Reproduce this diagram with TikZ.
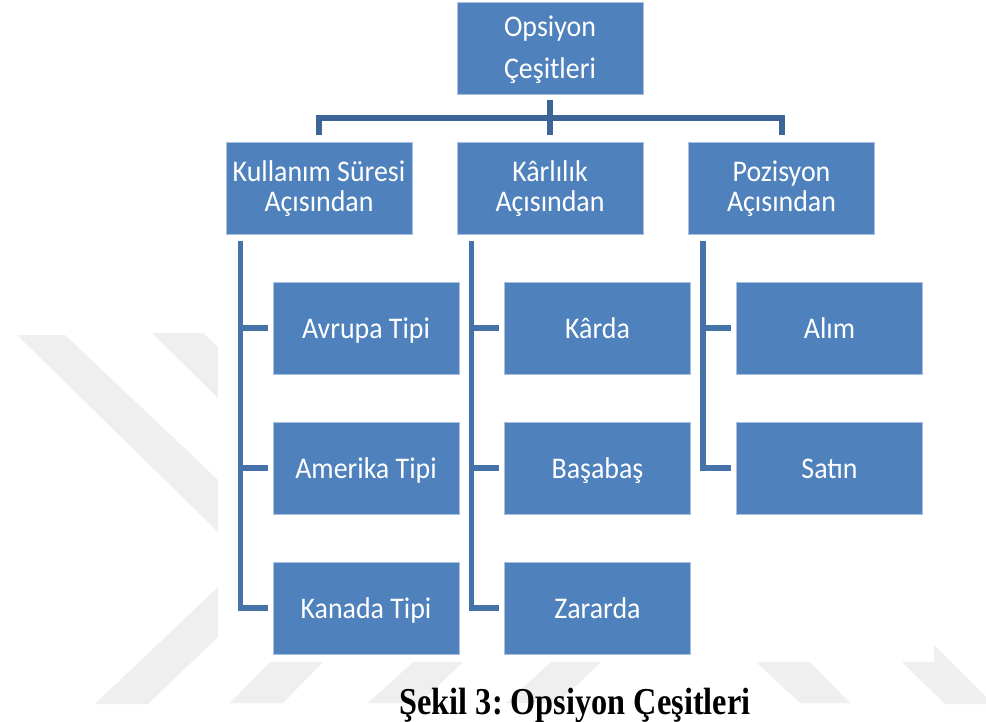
\documentclass[tikz,border=0pt]{standalone}
\usepackage{fontspec}
\usetikzlibrary{calc}
\newfontfamily\boxfont[FakeStretch=0.93]{Carlito}
\newfontfamily\capfont[FakeStretch=0.85]{Liberation Serif}
\definecolor{boxblue}{HTML}{4F81BD}
\definecolor{boxedge}{HTML}{A9C0DE}
\definecolor{lineblue}{HTML}{4672AA}
\definecolor{barblue}{HTML}{3D6698}
\definecolor{markgray}{HTML}{EFEFEF}
\tikzset{
  box/.style={rectangle, fill=boxblue, draw=boxedge, line width=0.8pt,
    minimum width=186pt, minimum height=92pt, inner sep=0pt, text=white,
    align=center, font=\boxfont\fontsize{30}{30}\selectfont,
    text height=20pt, text depth=0pt},
  % two-line labels: height is measured from the last baseline
  twoline/.style={text height=50pt, text depth=2pt},
  rootbox/.style={box, font=\boxfont\fontsize{30}{42}\selectfont,
    text height=64pt, text depth=2pt},
  bar/.style={draw=barblue, line width=6pt},
  tree/.style={draw=lineblue, line width=5.5pt},
  emblem/.style={fill=markgray, draw=none}
}
\begin{document}
\begin{tikzpicture}[x=1pt, y=-1pt]
  \useasboundingbox (0,0) rectangle (986,722);
  \fill[white] (0,0) rectangle (986,722);

  % faint background emblem, mostly hidden behind the white panel
  \fill[emblem] (17,335) -- (65,335) -- (218,480) -- (218,532) -- cycle;
  \fill[emblem] (152,333) -- (203,333) -- (218,347) -- (218,398) -- cycle;
  \fill[emblem] (95,704) -- (148,704) -- (218,637) -- (218,587) -- cycle;
  \fill[emblem] (230,703) -- (283,703) -- (323,662) -- (270,662) -- cycle;
  \fill[emblem] (368,703) -- (420,703) -- (463,662) -- (413,662) -- cycle;
  \fill[emblem] (506,703) -- (558,703) -- (601,662) -- (551,662) -- cycle;
  \fill[emblem] (756,662) -- (810,662) -- (850,703) -- (800,703) -- cycle;
  \fill[emblem] (902,662) -- (934,662) -- (934,645) -- (993,704) -- (945,704) -- cycle;
  \fill[white] (218,0) rectangle (934,662);

  % root
  \node[rootbox] (root) at (550,48) {Opsiyon\\Çeşitleri};

  % second level
  \node[box, twoline] (k1) at (319,188) {Kullanım Süresi\\Açısından};
  \node[box, twoline] (k2) at (550,188) {Kârlılık\\Açısından};
  \node[box, twoline] (k3) at (781.5,188) {Pozisyon\\Açısından};

  % third level
  \node[box] (c11) at (366,328) {Avrupa Tipi};
  \node[box] (c12) at (366,468) {Amerika Tipi};
  \node[box] (c13) at (366,608) {Kanada Tipi};
  \node[box] (c21) at (597.5,328) {Kârda};
  \node[box] (c22) at (597.5,468) {Başabaş};
  \node[box] (c23) at (597.5,608) {Zararda};
  \node[box] (c31) at (829.5,328) {Alım};
  \node[box] (c32) at (829.5,468) {Satın};

  % root to second level
  \coordinate (hub) at ($(root.south)!0.5!(k2.north)$);
  \draw[bar] ($(root.south)+(0,6)$) -- ($(k2.north)+(0,-7)$);
  \draw[bar] ($(k1.north)+(0,-7)$) |- (hub) -| ($(k3.north)+(0,-7)$);

  % spines hanging below the second level
  \coordinate (v1) at ($(k1.south west)+(15,7)$);
  \coordinate (v2) at ($(k2.south west)+(15,7)$);
  \coordinate (v3) at ($(k3.south west)+(15,7)$);

  % second level to third level
  \draw[tree] (v1) |- ($(c13.west)+(-5,0)$);
  \draw[tree] (v1 |- c11.west) -- ($(c11.west)+(-5,0)$);
  \draw[tree] (v1 |- c12.west) -- ($(c12.west)+(-5,0)$);
  \draw[tree] (v2) |- ($(c23.west)+(-5,0)$);
  \draw[tree] (v2 |- c21.west) -- ($(c21.west)+(-5,0)$);
  \draw[tree] (v2 |- c22.west) -- ($(c22.west)+(-5,0)$);
  \draw[tree] (v3) |- ($(c32.west)+(-5,0)$);
  \draw[tree] (v3 |- c31.west) -- ($(c31.west)+(-5,0)$);

  % caption
  \node[anchor=base, inner sep=0pt,
        font=\capfont\bfseries\fontsize{38}{40}\selectfont\frenchspacing]
    (caption) at (575,714) {Şekil 3: Opsiyon Çeşitleri};
\end{tikzpicture}
\end{document}
